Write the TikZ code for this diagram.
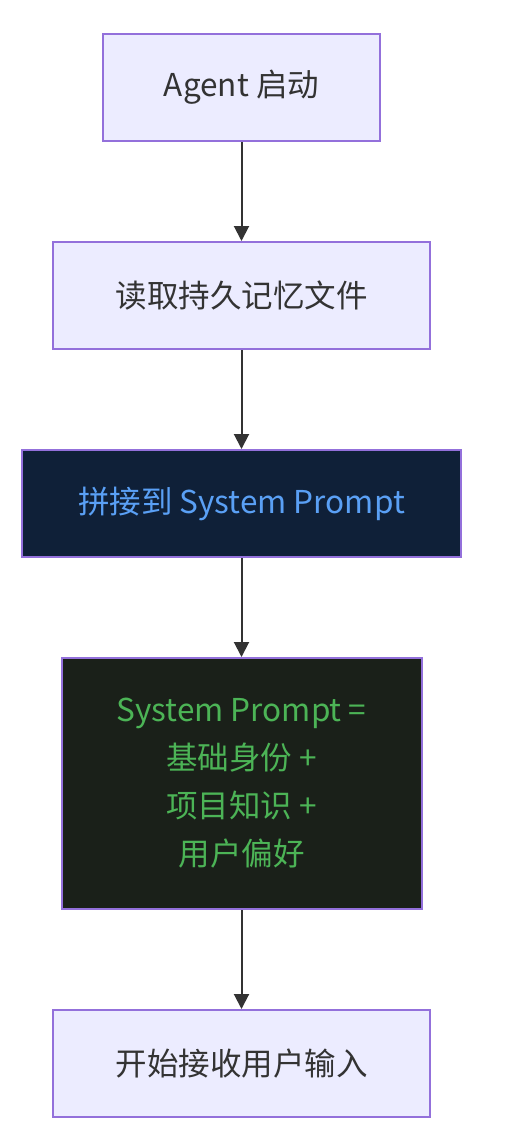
\documentclass[tikz,border=0pt]{standalone}
\usepackage{fontspec}
\setmainfont{Noto Sans CJK SC}
\usetikzlibrary{arrows.meta}
\definecolor{lightfill}{HTML}{ECECFF}
\definecolor{boxborder}{HTML}{9370DB}
\definecolor{textdark}{HTML}{333333}
\definecolor{navyfill}{HTML}{0F2038}
\definecolor{bluetext}{HTML}{5AA0F5}
\definecolor{greenfill}{HTML}{1A2019}
\definecolor{greentext}{HTML}{4CB456}
\tikzset{
  base/.style={draw=boxborder, line width=2pt, align=center, inner sep=0pt,
    font=\fontsize{31.5}{48}\selectfont},
  light/.style={base, fill=lightfill, text=textdark},
  navy/.style={base, fill=navyfill, text=bluetext},
  green/.style={base, fill=greenfill, text=greentext},
  conn/.style={draw=textdark, line width=2pt, -{Triangle[length=15pt,width=15pt]}}
}
\begin{document}
\begin{tikzpicture}[x=1pt,y=-1pt]
\useasboundingbox (0,0) rectangle (510,1146);
\fill[white] (0,0) rectangle (510,1146);
\node[light, minimum width=277pt, minimum height=107pt] (a) at (241.5,87.5) {Agent 启动};
\node[light, minimum width=377pt, minimum height=107pt] (b) at (241.5,295.5) {读取持久记忆文件};
\node[navy, minimum width=439pt, minimum height=107pt] (c) at (241.5,503.5) {拼接到 System Prompt};
\node[green, minimum width=360pt, minimum height=251pt] (d) at (241.5,783.5) {System Prompt =\\基础身份 +\\项目知识 +\\用户偏好};
\node[light, minimum width=377pt, minimum height=107pt] (e) at (241.5,1063.5) {开始接收用户输入};
\draw[conn] (a) -- (b);
\draw[conn] (b) -- (c);
\draw[conn] (c) -- (d);
\draw[conn] (d) -- (e);
\end{tikzpicture}
\end{document}
